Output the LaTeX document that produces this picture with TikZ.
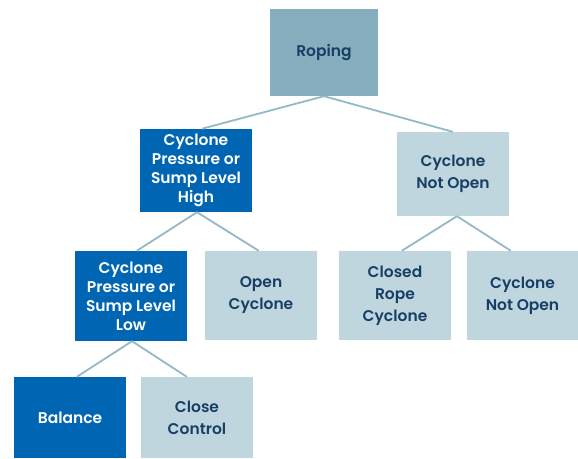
\documentclass[tikz,border=0pt]{standalone}
\usepackage{fontspec}
\setmainfont{Poppins}[UprightFont=* SemiBold, BoldFont=* Bold]
\usetikzlibrary{calc}
\definecolor{rootc}{HTML}{86AEBE}
\definecolor{darkc}{HTML}{0066B3}
\definecolor{lightc}{HTML}{C0D6DE}
\definecolor{linec}{HTML}{93B8C7}
\definecolor{txtc}{HTML}{173F66}
\tikzset{
  box/.style={draw=none, inner sep=0pt, align=center, font=\fontsize{15.5}{22}\selectfont},
  rootbox/.style={box, fill=rootc, text=txtc, minimum width=108pt, minimum height=87pt},
  darkbox/.style={box, fill=darkc, text=white, minimum width=112pt},
  lightbox/.style={box, fill=lightc, text=txtc, minimum width=112pt},
  tight/.style={font=\fontsize{15.5}{19}\selectfont},
  conn/.style={draw=linec, line width=1.8pt}
}
\begin{document}
\begin{tikzpicture}[x=1pt,y=-1pt]
\useasboundingbox (0,0) rectangle (578,458);
\node[rootbox] (roping) at (324,52.5) {Roping};
\node[darkbox, tight, minimum height=83pt] (high) at (196,170.5) {Cyclone\\Pressure or\\Sump Level\\High};
\node[lightbox, minimum height=84pt] (cno1) at (453,174) {Cyclone\\Not Open};
\node[darkbox, tight, minimum height=90pt] (low) at (131,296) {Cyclone\\Pressure or\\Sump Level\\Low};
\node[lightbox, minimum height=89pt] (open) at (261,295.5) {Open\\Cyclone};
\node[lightbox, minimum height=89pt] (rope) at (395,295.5) {Closed\\Rope\\Cyclone};
\node[lightbox, minimum width=111pt, minimum height=89pt] (cno2) at (522.5,295.5) {Cyclone\\Not Open};
\node[darkbox, minimum height=81pt] (bal) at (70,417.5) {Balance};
\node[lightbox, minimum height=81pt] (close) at (197,417.5) {Close\\Control};
\draw[conn] (roping.south) -- ($(high.north west)+(62,0)$);
\draw[conn] (roping.south) -- ($(cno1.north west)+(56,0)$);
\draw[conn] ($(high.south)+(1,0)$) -- ($(low.north west)+(62,0)$);
\draw[conn] ($(high.south)+(1,0)$) -- ($(open.north west)+(54,0)$);
\draw[conn] ($(low.south)+(1,0)$) -- ($(bal.north west)+(63,0)$);
\draw[conn] ($(low.south)+(1,0)$) -- ($(close.north west)+(46,0)$);
\draw[conn] ($(cno1.south)+(4,0)$) -- ($(rope.north west)+(63,0)$);
\draw[conn] ($(cno1.south)+(4,0)$) -- ($(cno2.north west)+(44,0)$);
\end{tikzpicture}
\end{document}
